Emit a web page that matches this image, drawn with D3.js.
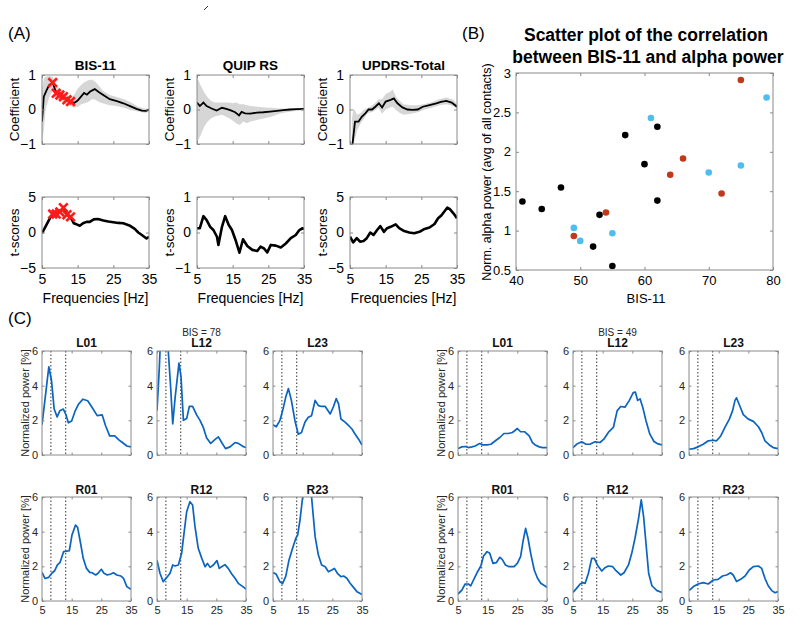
<!DOCTYPE html>
<html><head><meta charset="utf-8">
<script src="https://cdn.jsdelivr.net/npm/d3@7"></script>
<style>body{margin:0;background:#fff}svg{display:block;font-family:Arial,"Liberation Sans",Helvetica,sans-serif}</style>
</head><body><script>
// ---------------- DATA ----------------
// Panel A: frequency axis
const freqTicks = [5, 15, 25, 35];
const alphaBand = [8, 13];
const markerFreqs = [8, 9, 10, 11, 12, 13];
const measures = ["BIS-11", "QUIP RS", "UPDRS-Total"];
// coefficient curves [freq, value]
const bisCoef = [[5,-0.35],[5.5,0.37],[6.3,0.56],[7,0.71],[8,0.78],[9,0.47],[10,0.42],[11,0.37],[12,0.28],[13,0.23],[14,0.19],[15,0.26],[16,0.38],[16.8,0.48],[17.6,0.43],[18.5,0.52],[19.8,0.59],[21,0.5],[22.5,0.4],[24,0.3],[26,0.24],[27.8,0.18],[29.7,0.1],[31.5,0.02],[33,-0.03],[34.2,-0.04],[35,0.0]];
const quipCoef = [[5,0.2],[5.8,0.1],[6.8,0.2],[7.7,0.1],[9.1,0.03],[10.5,-0.03],[12,0.05],[13.2,0.02],[14.3,-0.02],[15.7,-0.08],[16.8,-0.17],[17.5,-0.07],[18.5,-0.11],[19.9,-0.12],[21.8,-0.09],[23.6,-0.08],[25.5,-0.06],[27.4,-0.04],[29.2,-0.02],[31.1,0],[32.9,0.01],[35,0.02]];
const updrsCoef = [[5.6,-1.1],[6.4,-0.35],[7.4,-0.35],[8.3,-0.21],[9.3,-0.11],[10.2,0],[11.2,0],[12.1,0.08],[13.1,0.18],[14,0.06],[15,0.23],[16.4,0.28],[17.3,0.32],[18.3,0.18],[19.7,0.06],[21.1,0],[22.6,-0.01],[24,0],[25.4,0.08],[27.3,0.13],[29.2,0.18],[30.5,0.22],[32,0.25],[33.5,0.2],[35,0.08]];
// confidence bands [freq, low, high]
const bisBand = [[5,-1,0.5],[5.5,-0.6,0.9],[6,0.0,0.95],[7,0.35,0.97],[8,0.55,0.95],[9,0.3,0.7],[10,0.26,0.6],[11,0.22,0.5],[12,0.15,0.42],[13,0.1,0.35],[14,0.05,0.42],[15,0.08,0.6],[16,0.15,0.72],[17,0.18,0.8],[18,0.22,0.85],[19,0.3,0.87],[20,0.28,0.8],[21,0.22,0.68],[22,0.18,0.55],[23,0.15,0.48],[24,0.12,0.42],[26,0.1,0.36],[28,0.05,0.3],[30,-0.02,0.2],[32,-0.06,0.08],[34,-0.1,0.02],[35,-0.06,0.03]];
const quipBand = [[5,-0.95,0.95],[6,-0.75,0.7],[7,-0.5,0.5],[8,-0.35,0.35],[9,-0.25,0.25],[10,-0.2,0.2],[12,-0.15,0.2],[14,-0.25,0.2],[15,-0.32,0.18],[16,-0.4,0.2],[17,-0.45,0.15],[18,-0.35,0.15],[19,-0.4,0.12],[20,-0.35,0.1],[22,-0.3,0.08],[24,-0.25,0.06],[26,-0.2,0.05],[28,-0.12,0.03],[30,-0.08,0.03],[32,-0.05,0.03],[35,-0.02,0.02]];
const updrsBand = [[5.5,-1,-0.3],[6,-1,0.05],[7,-0.6,-0.15],[8,-0.4,-0.1],[9,-0.25,0.0],[10,-0.1,0.05],[11,-0.08,0.1],[12,-0.03,0.18],[13,0.05,0.3],[14,-0.12,0.3],[15,0.0,0.45],[16,0.05,0.5],[17,0.08,0.58],[18,-0.02,0.35],[19,-0.1,0.25],[20,-0.15,0.15],[22,-0.12,0.12],[24,-0.08,0.12],[26,0.0,0.16],[28,0.05,0.22],[30,0.12,0.3],[32,0.15,0.35],[34,0.1,0.28],[35,0.0,0.15]];
// t-score curves
const bisT = [[5,-0.1],[6.2,1.05],[7.2,2.0],[8,2.6],[9,2.6],[10,2.9],[11,3.5],[12,2.5],[13,2.2],[13.9,1.3],[14.7,1.15],[15.6,0.95],[16.5,1.3],[17.5,1.5],[18.4,1.5],[19.5,1.85],[20.7,1.9],[22.2,1.7],[23.6,1.55],[25,1.45],[26.4,1.35],[27.8,1.3],[29.5,1.0],[31,0.5],[32,0.0],[33,-0.35],[34.3,-0.85],[35,-0.6]];
const quipT = [[5,0.12],[5.8,0.12],[6.8,0.46],[7.7,0.35],[8.7,0.16],[9.6,0.07],[10.6,-0.12],[11,-0.35],[12,0.16],[12.9,0.46],[13.9,0.21],[14.8,0.07],[15.8,-0.21],[16.9,-0.57],[17.9,-0.19],[19.1,-0.38],[20.5,-0.49],[21.9,-0.52],[22.8,-0.4],[23.8,-0.45],[24.7,-0.56],[25.7,-0.35],[27.1,-0.37],[28.5,-0.42],[29.9,-0.31],[31.3,-0.16],[32.7,-0.07],[33.7,0.07],[34.6,0.12],[35,0.09]];
const updrsT = [[5,-0.6],[5.9,-1.4],[6.9,-0.8],[7.8,-1.3],[8.8,-1.2],[9.7,-0.8],[10.7,0],[11.6,-0.35],[12.6,0.35],[13.5,0.9],[14.5,0.1],[15.4,0.6],[16.4,0.8],[17.8,1.15],[18.8,0.6],[20.2,0.2],[21.6,0],[23,-0.1],[24.5,0.1],[25.9,0.5],[27.3,0.7],[28.7,1.2],[29.7,2.0],[30.6,2.4],[31.5,3.0],[32.3,3.5],[33,3.3],[34,2.7],[35,2.0]];

// Panel B: scatter
const blackX = [41,44,47,52,53,55,57,60,62,62];
const blackY = [1.37,1.275,1.547,0.797,1.2,0.551,2.212,1.843,2.318,1.381];
const redX = [49,54,64,66,72,75];
const redY = [0.932,1.229,1.708,1.915,1.47,2.911];
const blueX = [49,50,55,61,70,75,79];
const blueY = [1.034,0.869,0.966,2.428,1.737,1.826,2.69];
const scatterXTicks = [40,50,60,70,80];
const scatterYTicks = [0.5,1,1.5,2,2.5,3];

// Panel C: normalized power spectra
const contactsTop = ["L01","L12","L23"];
const contactsBottom = ["R01","R12","R23"];
const powerTicks = [0,2,4,6];
const bis78 = {
  L01: [[5,1.75],[6.1,3.34],[7.3,5.09],[8.2,4.3],[9.1,2.65],[10.1,2.2],[11,2.55],[12.2,2.65],[13,2.35],[13.9,1.86],[15,1.96],[16.2,2.55],[17.3,2.93],[18.8,3.22],[20.4,3.13],[21.9,2.74],[23.6,2.27],[25.3,2.31],[26.4,1.7],[27.8,1.1],[29.5,1.1],[31,0.86],[32.1,0.72],[33.6,0.52],[35,0.47]],
  L12: [[5,2.56],[5.8,5.1],[6.5,8],[7.5,9],[8.5,7],[8.8,6],[9.6,3.9],[10.3,1.8],[11.1,3.3],[12.4,5.3],[13.1,4.5],[13.9,2.0],[15,2.1],[15.9,2.8],[17,2.8],[18.4,2.3],[19.5,2.0],[20.6,1.6],[21.7,1.0],[23.1,0.67],[24.6,0.9],[25.7,1.05],[26.8,0.72],[28.1,0.37],[29.6,0.47],[31.3,0.72],[32.4,0.67],[33.9,0.5],[35,0.43]],
  L23: [[5,1.75],[6.1,1.63],[7.3,1.98],[8.4,2.66],[9.3,3.34],[10.2,3.83],[11.2,3.15],[12.4,1.98],[13.5,1.2],[14.6,1.3],[15.8,1.9],[16.9,2.18],[18,2.27],[19.2,3.15],[20.3,2.85],[21.4,2.8],[22.6,2.8],[24.3,2.37],[25.4,2.8],[26.3,3.25],[27.1,2.95],[27.9,2.08],[29.3,1.9],[30.5,1.7],[31.6,1.5],[32.7,1.2],[33.9,0.9],[35,0.58]],
  R01: [[5,1.65],[6,1.3],[7.2,1.36],[8.3,1.6],[9.2,1.73],[10.2,2.08],[11.1,2.23],[12.3,2.85],[13.4,2.88],[14.2,2.9],[15.1,3.8],[16.3,4.38],[17,4.25],[18,3.33],[18.9,2.46],[20,1.88],[21.1,1.65],[21.9,1.63],[23.1,1.5],[23.9,1.6],[25,1.83],[25.9,1.6],[27,1.5],[28.2,1.56],[29.1,1.63],[30.2,1.5],[31.6,1.44],[32.5,1.3],[33.6,0.83],[35,0.67]],
  R12: [[5,2.35],[6,1.6],[7.1,1.12],[8.3,1.36],[9.4,1.6],[10.3,2.08],[11.1,2.02],[12.2,2.08],[13.3,2.75],[14.1,3.9],[15,5.15],[16.1,5.73],[17,5.54],[17.8,4.3],[18.9,3.04],[20.1,2.46],[21.2,1.98],[22,2.17],[22.9,1.94],[24,2.08],[25.2,2.33],[26,1.88],[26.8,1.98],[27.9,2.1],[29,1.88],[30.2,1.56],[31.3,1.31],[32.4,1.02],[33.6,0.87],[35,0.69]],
  R23: [[5,1.65],[6.1,1.54],[7.3,1.12],[8.2,1.0],[9.3,1.42],[10.4,2.37],[11.6,3.04],[12.7,3.62],[13.3,3.8],[14.1,4.67],[15,6.0],[15.7,7.2],[16.5,8],[17.3,7.2],[18,6.0],[19.2,3.71],[20.3,2.65],[21.4,2.08],[22.6,1.98],[23.7,1.69],[24.8,1.79],[25.7,1.88],[26.7,1.6],[27.9,1.4],[28.8,1.44],[29.9,1.31],[31,1.02],[32.2,0.77],[33.3,0.54],[35,0.38]]
};
const bis49 = {
  L01: [[5,0.37],[6.3,0.47],[7.4,0.49],[8.5,0.43],[9.7,0.47],[10.8,0.52],[12.3,0.66],[13.4,0.58],[14.8,0.58],[16.1,0.62],[17.6,0.82],[19.1,1.01],[20.5,1.24],[21.9,1.24],[23.3,1.3],[24.1,1.4],[25,1.53],[26.1,1.34],[27.5,1.34],[29,1.1],[30.1,0.72],[31,0.58],[32.4,0.47],[33.5,0.43],[35,0.43]],
  L12: [[5,0.43],[6.2,0.62],[7.9,0.76],[9.4,0.62],[10.7,0.62],[12.4,0.76],[14.1,0.72],[15.4,0.91],[16.9,1.3],[18.6,1.59],[19.9,2.56],[21.1,2.8],[22.5,2.76],[24,3.15],[25.3,3.6],[26,3.63],[26.8,3.15],[27.6,3.24],[28.5,2.76],[29.6,1.98],[30.9,1.2],[32.3,0.78],[33.4,0.66],[35,0.58]],
  L23: [[5,0.33],[6.5,0.37],[8.1,0.47],[9.8,0.62],[11.5,0.82],[13,0.85],[14.3,0.82],[15.7,1.1],[17.1,1.59],[18.6,2.07],[19.7,2.56],[20.5,3.15],[21,3.3],[22.2,2.8],[23.3,2.33],[25,2.07],[26.7,1.94],[28.4,1.63],[29.5,1.3],[30.6,0.82],[32.1,0.58],[33.4,0.43],[35,0.37]],
  R01: [[5,0.4],[6.3,0.63],[7.4,0.98],[8.5,0.98],[9.3,0.88],[10.5,1.31],[11.6,1.69],[12.7,2.02],[13.6,2.6],[14.8,2.85],[15.7,2.75],[16.8,2.17],[17.9,2.21],[19.1,2.52],[19.9,2.4],[21,2.08],[22.2,1.98],[23.9,1.98],[25,2.17],[26.1,2.56],[27,3.52],[27.8,4.19],[28.6,3.62],[29.5,2.75],[30.7,1.79],[31.8,1.31],[32.9,1.02],[35,0.79]],
  R12: [[5,0.5],[6.2,0.73],[7.4,0.98],[8.3,1.06],[9.1,1.02],[10.2,1.6],[11.3,2.46],[12.2,2.46],[13.2,2.08],[14.7,1.73],[15.8,1.92],[16.9,2.02],[18.4,1.98],[19.5,1.75],[21.1,1.5],[22.2,1.63],[23.7,2.08],[24.8,2.75],[25.9,3.62],[27.1,4.77],[28,5.83],[28.8,4.87],[29.7,3.13],[30.5,1.6],[31.6,0.88],[33.3,0.6],[35,0.5]],
  R23: [[5,0.6],[6.5,0.83],[8.1,0.98],[9.8,1.06],[11.5,0.98],[13.2,1.21],[14.8,1.25],[16.3,1.44],[17.7,1.5],[19,1.63],[19.9,1.5],[21,1.13],[22.4,1.25],[23.9,1.44],[25.3,1.79],[26.7,1.98],[28.4,2.02],[29.5,1.88],[30.6,1.31],[31.7,0.88],[32.9,0.6],[34,0.48],[35,0.54]]
};

// ---------------- DRAWING ----------------
const svg = d3.select("body").append("svg").attr("width", 800).attr("height", 623);
const defs = svg.append("defs");
const TXT = "#000", BOX = "#8a8a8a";
let clipN = 0;

function axes(p) {
  const xs = d3.scaleLinear().domain(p.xd).range([p.x, p.x + p.w]);
  const ys = d3.scaleLinear().domain(p.yd).range([p.y + p.h, p.y]);
  const id = "clip" + (clipN++);
  defs.append("clipPath").attr("id", id).append("rect")
    .attr("x", p.x).attr("y", p.y).attr("width", p.w).attr("height", p.h);
  const g = svg.append("g");
  const plot = g.append("g").attr("clip-path", `url(#${id})`);
  const frame = g.append("g");
  const tl = p.tl || 3;
  const style = (sel) => {
    sel.select(".domain").remove();
    sel.selectAll(".tick line").attr("stroke", BOX);
    sel.attr("font-family", null).attr("font-size", p.fs);
    sel.selectAll("text").attr("fill", p.tc || TXT);
  };
  frame.append("g").attr("transform", `translate(0,${p.y + p.h})`)
    .call(d3.axisBottom(xs).tickValues(p.xt).tickSizeInner(-tl).tickSizeOuter(0).tickPadding(p.xpad)
      .tickFormat(p.xlab ? d3.format("") : ""))
    .call(style);
  frame.append("g").attr("transform", `translate(0,${p.y})`)
    .call(d3.axisTop(xs).tickValues(p.xt).tickSizeInner(-tl).tickSizeOuter(0).tickFormat(""))
    .call(style);
  frame.append("g").attr("transform", `translate(${p.x},0)`)
    .call(d3.axisLeft(ys).tickValues(p.yt).tickSizeInner(-tl).tickSizeOuter(0).tickPadding(p.ypad)
      .tickFormat(p.yfmt || d3.format("")))
    .call(style);
  frame.append("g").attr("transform", `translate(${p.x + p.w},0)`)
    .call(d3.axisRight(ys).tickValues(p.yt).tickSizeInner(-tl).tickSizeOuter(0).tickFormat(""))
    .call(style);
  frame.append("rect").attr("x", p.x).attr("y", p.y).attr("width", p.w).attr("height", p.h)
    .attr("fill", "none").attr("stroke", BOX).attr("stroke-width", 1);
  return { xs, ys, plot, frame };
}

function text(x, y, s, fs, opts = {}) {
  const t = svg.append("text").attr("x", x).attr("y", y).attr("dy", "0.35em")
    .attr("text-anchor", opts.anchor || "middle").attr("font-size", fs)
    .attr("fill", opts.fill || TXT).attr("font-weight", opts.bold ? "bold" : "normal").text(s);
  if (opts.rot) t.attr("transform", `rotate(-90,${x},${y})`);
  return t;
}

// ---- Panel A ----
text(8, 33, "(A)", 17, { anchor: "start" });
svg.append("path").attr("d", "M204,10 L208,6").attr("stroke", "#333").attr("stroke-width", 1);
const colX = [42, 197, 350], colW = 107;
const coefData = [bisCoef, quipCoef, updrsCoef];
const bandData = [bisBand, quipBand, updrsBand];
const tData = [bisT, quipT, updrsT];
const tDomains = [[-5, 5], [-1, 1], [-5, 5]];
const tTicks = [[-5, 0, 5], [-1, 0, 1], [-5, 0, 5]];

function markers(ax, data) {
  const pts = data.filter(d => markerFreqs.includes(d[0]));
  ax.plot.selectAll(".mk").data(pts).join("path")
    .attr("transform", d => `translate(${ax.xs(d[0])},${ax.ys(d[1])})`)
    .attr("d", d3.symbol(d3.symbolX, 50)).attr("fill", "none").attr("stroke", "#ff1a1a").attr("stroke-width", 2.6);
}

measures.forEach((m, i) => {
  const x0 = colX[i];
  // top: coefficients
  const a = axes({ x: x0, y: 75, w: colW, h: 69, xd: [5, 35], yd: [-1, 1], xt: freqTicks, yt: [-1, 0, 1],
    xlab: false, xpad: 4, ypad: 6, fs: 14 });
  a.plot.append("path").datum(bandData[i])
    .attr("d", d3.area().x(d => a.xs(d[0])).y0(d => a.ys(d[1])).y1(d => a.ys(d[2])))
    .attr("fill", "#d6d6d6");
  a.plot.append("path").datum(coefData[i])
    .attr("d", d3.line().x(d => a.xs(d[0])).y(d => a.ys(d[1])))
    .attr("fill", "none").attr("stroke", "#000").attr("stroke-width", 1.8);
  if (i === 0) markers(a, coefData[i]);
  text(x0 + colW / 2, 65, m, 13.5, { bold: true });
  text(x0 - 28, 109.5, "Coefficient", 13.5, { rot: true });

  // bottom: t-scores
  const b = axes({ x: x0, y: 197, w: colW, h: 71, xd: [5, 35], yd: tDomains[i], xt: freqTicks, yt: tTicks[i],
    xlab: true, xpad: 6, ypad: 6, fs: 14 });
  b.plot.append("path").datum(tData[i])
    .attr("d", d3.line().x(d => b.xs(d[0])).y(d => b.ys(d[1])))
    .attr("fill", "none").attr("stroke", "#000").attr("stroke-width", 2.6).attr("stroke-linejoin", "round");
  if (i === 0) markers(b, tData[i]);
  text(x0 - 28, 232.5, "t-scores", 13.5, { rot: true });
  text(x0 + colW / 2, 298, "Frequencies [Hz]", 14);
});

// ---- Panel B ----
text(462, 33, "(B)", 17, { anchor: "start" });
text(646, 35, "Scatter plot of the correlation", 17.5, { bold: true });
text(648, 57, "between BIS-11 and alpha power", 17.5, { bold: true });
const s = axes({ x: 516, y: 73, w: 257, h: 197, xd: [40, 80], yd: [0.5, 3], xt: scatterXTicks, yt: scatterYTicks,
  xlab: true, xpad: 6, ypad: 5, fs: 13, tl: 3, yfmt: d3.format("") });
const groups = [[blackX, blackY, "#000000"], [redX, redY, "#c0391b"], [blueX, blueY, "#4dbeee"]];
groups.forEach(([gx, gy, c]) => {
  s.plot.selectAll(null).data(gx.map((v, k) => [v, gy[k]])).join("circle")
    .attr("cx", d => s.xs(d[0])).attr("cy", d => s.ys(d[1])).attr("r", 3.3).attr("fill", c);
});
text(646, 298, "BIS-11", 13);
text(487, 172, "Norm. alpha power (avg of all contacts)", 12.5, { rot: true });

// ---- Panel C ----
text(8, 318, "(C)", 17, { anchor: "start" });
const groupsC = [{ x: [42, 157, 273], data: bis78, label: "BIS = 78" }, { x: [458, 573, 689], data: bis49, label: "BIS = 49" }];
const rowsC = [{ y: 351, names: contactsTop, ty: 343 }, { y: 497, names: contactsBottom, ty: 490 }];
const CW = 89, CH = 104;
groupsC.forEach(G => {
  text(G.x[1] + CW / 2, 332, G.label, 10, { fill: "#262626" });
  rowsC.forEach(R => {
    R.names.forEach((nm, j) => {
      const c = axes({ x: G.x[j], y: R.y, w: CW, h: CH, xd: [5, 35], yd: [0, 6], xt: freqTicks, yt: powerTicks,
        xlab: R.y > 400, xpad: 5, ypad: 4, fs: 11, tl: 2.5, tc: "#262626" });
      alphaBand.forEach(f => {
        c.plot.append("line").attr("x1", c.xs(f)).attr("x2", c.xs(f)).attr("y1", R.y).attr("y2", R.y + CH)
          .attr("stroke", "#333").attr("stroke-width", 1).attr("stroke-dasharray", "1.5,2");
      });
      c.plot.append("path").datum(G.data[nm])
        .attr("d", d3.line().x(d => c.xs(d[0])).y(d => c.ys(d[1])))
        .attr("fill", "none").attr("stroke", "#0a64c0").attr("stroke-width", 1.7).attr("stroke-linejoin", "round");
      text(G.x[j] + CW / 2, R.ty, nm, 12, { bold: true, fill: "#111" });
      if (j === 0) text(G.x[0] - 17, R.y + CH / 2, "Normalized power [%]", 11, { rot: true, fill: "#262626" });
    });
  });
});
</script></body></html>
